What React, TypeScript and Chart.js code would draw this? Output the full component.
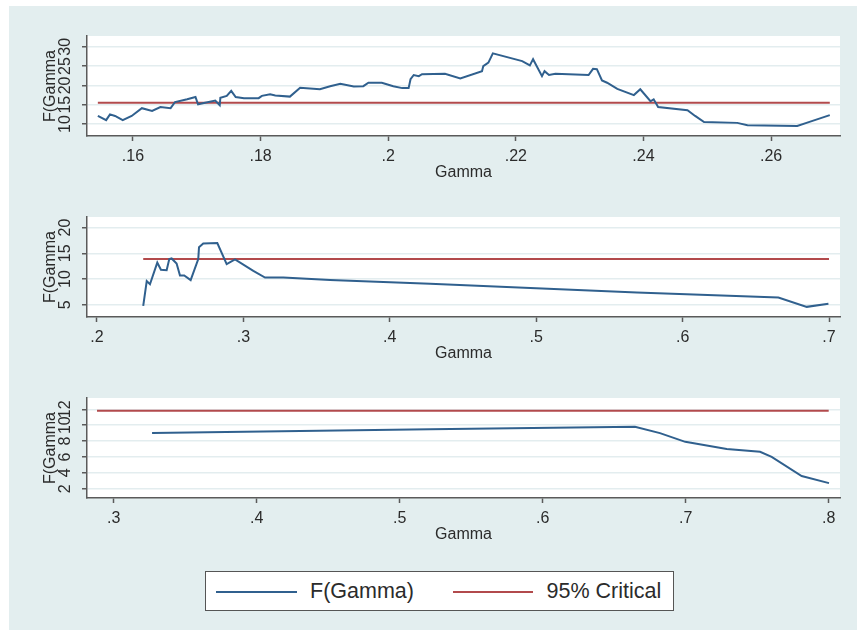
import React, { useEffect, useRef } from "react";
import { Chart, registerables } from "chart.js";

Chart.register(...registerables);

// ---------- DATA ----------
const SERIES_LABEL = "F(Gamma)";
const CRIT_LABEL = "95% Critical";
const X_TITLE = "Gamma";
const Y_TITLE = "F(Gamma";

// Panel 1
const GAMMA1 = [
  0.1545, 0.1558, 0.1564, 0.1572, 0.1584, 0.1598, 0.1614, 0.163, 0.1643, 0.1659,
  0.1666, 0.1685, 0.1698, 0.1702, 0.1729, 0.1736, 0.1737, 0.1747, 0.1754, 0.1761,
  0.1774, 0.1797, 0.1802, 0.1815, 0.1823, 0.1846, 0.1862, 0.1893, 0.1909, 0.1925,
  0.1946, 0.1961, 0.1969, 0.199, 0.2008, 0.2022, 0.2032, 0.2035, 0.204, 0.2048,
  0.2053, 0.2089, 0.2113, 0.2147, 0.2149, 0.2157, 0.2164, 0.221, 0.2222, 0.2227,
  0.2241, 0.2245, 0.2252, 0.2262, 0.2314, 0.2321, 0.2327, 0.2335, 0.2343, 0.2359,
  0.2385, 0.2395, 0.2411, 0.2416, 0.2423, 0.2469, 0.2481, 0.2495, 0.2547, 0.2563,
  0.2641, 0.2659, 0.2692,
];
const F1 = [
  12.1, 11.0, 12.5, 12.1, 11.0, 12.1, 14.1, 13.4, 14.4, 14.1,
  15.7, 16.4, 17.0, 15.1, 16.1, 14.9, 16.8, 17.3, 18.6, 17.0,
  16.7, 16.7, 17.3, 17.7, 17.4, 17.1, 19.4, 19.0, 19.8, 20.4,
  19.7, 19.8, 20.7, 20.7, 19.8, 19.3, 19.3, 21.6, 22.7, 22.4,
  22.9, 23.0, 21.8, 23.7, 25.0, 25.9, 28.3, 26.3, 25.2, 26.8,
  22.4, 23.7, 22.7, 23.0, 22.7, 24.3, 24.2, 21.3, 20.7, 19.1,
  17.5, 19.0, 15.9, 16.4, 14.4, 13.6, 12.1, 10.5, 10.3, 9.7,
  9.5, 10.5, 12.3,
];
const CRIT1_X = [0.1545, 0.2692];
const CRIT1_Y = [15.5, 15.5];
const X1_TICKS = [0.16, 0.18, 0.2, 0.22, 0.24, 0.26];
const X1_LABELS = [".16", ".18", ".2", ".22", ".24", ".26"];
const Y1_TICKS = [10, 15, 20, 25, 30];

// Panel 2
const GAMMA2 = [
  0.2316, 0.234, 0.2362, 0.2412, 0.2437, 0.2476, 0.2494, 0.251, 0.2544, 0.2567,
  0.2596, 0.264, 0.2692, 0.2697, 0.2726, 0.2822, 0.2886, 0.2943, 0.3068, 0.3148,
  0.3273, 0.3592, 0.4275, 0.5, 0.5687, 0.6654, 0.6848, 0.6996,
];
const F2 = [
  4.8, 9.6, 9.0, 13.2, 11.8, 11.7, 13.9, 14.0, 13.0, 10.7,
  10.7, 9.8, 13.9, 16.2, 16.9, 17.0, 12.9, 13.8, 11.6, 10.3,
  10.3, 9.8, 9.1, 8.2, 7.4, 6.4, 4.6, 5.2,
];
const CRIT2_X = [0.2316, 0.7];
const CRIT2_Y = [13.9, 13.9];
const X2_TICKS = [0.2, 0.3, 0.4, 0.5, 0.6, 0.7];
const X2_LABELS = [".2", ".3", ".4", ".5", ".6", ".7"];
const Y2_TICKS = [5, 10, 15, 20];

// Panel 3
const GAMMA3 = [0.3268, 0.5212, 0.6645, 0.682, 0.6997, 0.7287, 0.752, 0.7601, 0.7811, 0.8002];
const F3 = [9.0, 9.5, 9.8, 9.0, 7.9, 7.0, 6.65, 6.0, 3.6, 2.7];
const CRIT3_X = [0.2883, 0.8];
const CRIT3_Y = [11.8, 11.8];
const X3_TICKS = [0.3, 0.4, 0.5, 0.6, 0.7, 0.8];
const X3_LABELS = [".3", ".4", ".5", ".6", ".7", ".8"];
const Y3_TICKS = [2, 4, 6, 8, 10, 12];

// ---------- STYLE ----------
const FONT = '"Liberation Sans", Arial, sans-serif';
const BG = "#e3eeef";
const GRID = "#e3edef";
const AXIS = "#5a5a5a";
const TEXT = "#2b2b2b";
const BLUE = "#30608e";
const RED = "#b24a4c";

const plotBg = {
  id: "plotBg",
  beforeDraw(chart: any) {
    const { ctx, chartArea: a } = chart;
    ctx.save();
    ctx.fillStyle = "#ffffff";
    ctx.fillRect(a.left, a.top, a.right - a.left, a.bottom - a.top);
    ctx.restore();
  },
};

type PanelProps = {
  top: number;
  gx: number[];
  fy: number[];
  cx: number[];
  cy: number[];
  xTicks: number[];
  xLabels: string[];
  yTicks: number[];
  xMin: number;
  xMax: number;
  yMin: number;
  yMax: number;
};

function Panel(p: PanelProps) {
  const ref = useRef<HTMLCanvasElement | null>(null);
  useEffect(() => {
    if (!ref.current) return;
    const chart = new Chart(ref.current, {
      type: "line",
      data: {
        datasets: [
          {
            label: SERIES_LABEL,
            data: p.gx.map((x, i) => ({ x, y: p.fy[i] })),
            borderColor: BLUE,
            borderWidth: 2,
            pointRadius: 0,
            tension: 0,
            fill: false,
          },
          {
            label: CRIT_LABEL,
            data: p.cx.map((x, i) => ({ x, y: p.cy[i] })),
            borderColor: RED,
            borderWidth: 2,
            pointRadius: 0,
            tension: 0,
            fill: false,
          },
        ],
      },
      options: {
        animation: false,
        responsive: false,
        maintainAspectRatio: false,
        layout: { padding: { top: 30, right: 17, left: 0, bottom: 0 } },
        plugins: { legend: { display: false }, tooltip: { enabled: false } },
        scales: {
          x: {
            type: "linear",
            min: p.xMin,
            max: p.xMax,
            afterBuildTicks: (s: any) => {
              s.ticks = p.xTicks.map((v) => ({ value: v }));
            },
            afterFit: (s: any) => {
              s.height = 50;
            },
            ticks: {
              autoSkip: false,
              maxRotation: 0,
              padding: 6,
              color: TEXT,
              font: { family: FONT, size: 16 },
              callback: (_v: any, i: number) => p.xLabels[i],
            },
            grid: {
              drawOnChartArea: false,
              drawTicks: true,
              tickLength: 5,
              tickColor: AXIS,
              tickWidth: 1.5,
            },
            border: { display: true, color: AXIS, width: 1.5 },
            title: {
              display: true,
              text: X_TITLE,
              color: TEXT,
              font: { family: FONT, size: 16 },
              padding: { top: 0, bottom: 4 },
            },
          },
          y: {
            type: "linear",
            min: p.yMin,
            max: p.yMax,
            afterBuildTicks: (s: any) => {
              s.ticks = p.yTicks.map((v) => ({ value: v }));
            },
            afterFit: (s: any) => {
              s.width = 78;
            },
            ticks: {
              autoSkip: false,
              minRotation: 90,
              maxRotation: 90,
              crossAlign: "center",
              padding: 7.5,
              color: TEXT,
              font: { family: FONT, size: 16 },
              callback: (v: any) => String(v),
            },
            grid: {
              color: GRID,
              lineWidth: 1.5,
              drawTicks: true,
              tickLength: 5,
              tickColor: AXIS,
              tickWidth: 1.5,
            },
            border: { display: true, color: AXIS, width: 1.5 },
            title: {
              display: true,
              text: Y_TITLE,
              color: TEXT,
              font: { family: FONT, size: 16 },
              padding: { top: 31.5, bottom: 0 },
            },
          },
        },
      },
      plugins: [plotBg],
    } as any);
    return () => chart.destroy();
  }, []);
  return (
    <canvas
      ref={ref}
      width={848}
      height={180}
      style={{ position: "absolute", left: 9, top: p.top, width: 848, height: 180 }}
    />
  );
}

export default function App() {
  return (
    <div style={{ position: "absolute", left: 0, top: 0, width: 857, height: 630, overflow: "hidden", background: "#ffffff" }}>
      <div style={{ position: "absolute", left: 9, top: 6, width: 848, height: 624, background: BG }} />
      <Panel top={6} gx={GAMMA1} fy={F1} cx={CRIT1_X} cy={CRIT1_Y} xTicks={X1_TICKS} xLabels={X1_LABELS} yTicks={Y1_TICKS}
        xMin={0.1528} xMax={0.2708} yMin={6.9} yMax={32.8} />
      <Panel top={186.7} gx={GAMMA2} fy={F2} cx={CRIT2_X} cy={CRIT2_Y} xTicks={X2_TICKS} xLabels={X2_LABELS} yTicks={Y2_TICKS}
        xMin={0.1932} xMax={0.7075} yMin={2.63} yMax={22.05} />
      <Panel top={368} gx={GAMMA3} fy={F3} cx={CRIT3_X} cy={CRIT3_Y} xTicks={X3_TICKS} xLabels={X3_LABELS} yTicks={Y3_TICKS}
        xMin={0.2813} xMax={0.8079} yMin={0.83} yMax={13.42} />
      <div
        style={{
          position: "absolute",
          left: 205,
          top: 571,
          width: 467,
          height: 38,
          border: "1.5px solid #555",
          background: "#ffffff",
          fontFamily: FONT,
          fontSize: 21.5,
          color: TEXT,
        }}
      >
        <div style={{ position: "absolute", left: 10, top: 19, width: 81, height: 2, background: BLUE }} />
        <div style={{ position: "absolute", left: 104, top: 0, height: 38, lineHeight: "38px", whiteSpace: "nowrap" }}>{SERIES_LABEL}</div>
        <div style={{ position: "absolute", left: 246.5, top: 19, width: 80, height: 2, background: RED }} />
        <div style={{ position: "absolute", left: 340.5, top: 0, height: 38, lineHeight: "38px", whiteSpace: "nowrap" }}>{CRIT_LABEL}</div>
      </div>
    </div>
  );
}
